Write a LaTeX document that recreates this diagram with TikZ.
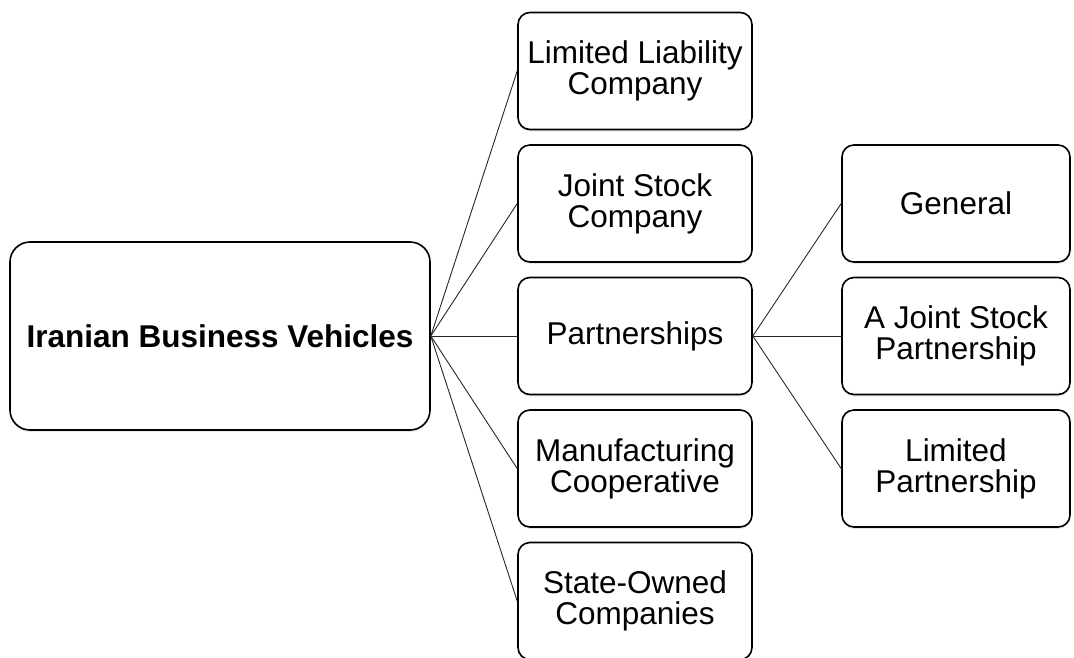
\documentclass[tikz,border=0pt]{standalone}
\usepackage{fontspec}
\setmainfont{Liberation Sans}
\usetikzlibrary{shadows}

\begin{document}
\begin{tikzpicture}[x=1pt, y=-1pt,
    box/.style={draw, line width=1.6pt, rounded corners=12pt, fill=white,
        align=center, inner sep=0pt, minimum width=234pt, minimum height=117pt,
        font=\fontsize{31.5}{31}\selectfont,
        drop shadow={opacity=0.18, shadow xshift=0pt, shadow yshift=-2pt}},
    link/.style={line width=0.9pt, black!85}]
    \clip (0,0) rectangle (1074,657);
    \node[box, minimum width=420pt, minimum height=188pt, rounded corners=20pt,
        font=\fontsize{31.5}{31}\selectfont\bfseries] (root) at (220,336) {Iranian Business Vehicles};
    % second level
    \node[box] (llc) at (635,71) {Limited Liability\\Company};
    \node[box] (jsc) at (635,203.5) {Joint Stock\\Company};
    \node[box] (part) at (635,336) {Partnerships};
    \node[box] (coop) at (635,468.5) {Manufacturing\\Cooperative};
    \node[box] (soc) at (635,601) {State-Owned\\Companies};
    % kinds of partnership
    \node[box, minimum width=228pt] (gen) at (956,203.5) {General};
    \node[box, minimum width=228pt] (jsp) at (956,336) {A Joint Stock\\Partnership};
    \node[box, minimum width=228pt] (ltd) at (956,468.5) {Limited\\Partnership};
    \foreach \n in {llc, jsc, part, coop, soc}
        \draw[link] (root.east) -- (\n.west);
    \foreach \n in {gen, jsp, ltd}
        \draw[link] (part.east) -- (\n.west);
\end{tikzpicture}
\end{document}
